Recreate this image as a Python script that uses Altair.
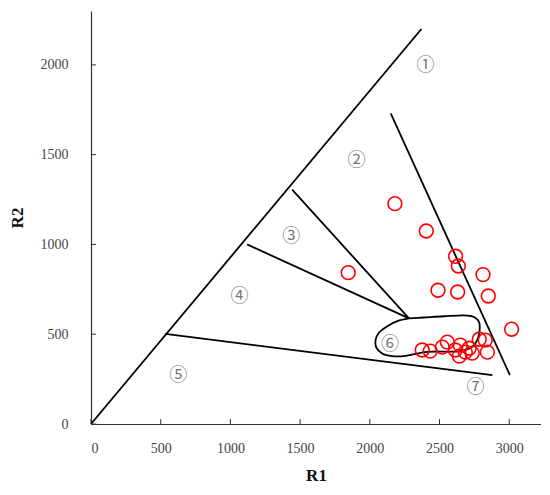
import altair as alt
import pandas as pd

# ---- data ----
x_ticks = [0, 500, 1000, 1500, 2000, 2500, 3000]
y_ticks = [0, 500, 1000, 1500, 2000]

# boundary segments (x1, y1, x2, y2)
seg_names = ["diag", "b12", "b23", "b34", "b45"]
seg_x1 = [0, 2150, 1443, 1120, 533]
seg_y1 = [0, 1730, 1305, 1000, 502]
seg_x2 = [2370, 3005, 2281, 2281, 2879]
seg_y2 = [2200, 272, 588, 588, 272]

# field 6 closed outline
blob_x = [2281, 2197, 2125, 2065, 2041, 2046, 2089, 2161, 2245, 2412, 2651, 2735,
          2771, 2788, 2783, 2747, 2699, 2532, 2388, 2281]
blob_y = [588, 573, 545, 508, 467, 426, 393, 378, 378, 402, 406, 430,
          467, 523, 569, 596, 604, 600, 593, 588]

# samples
pts_r1 = [2180, 1845, 2405, 2615, 2635, 2812, 2489, 2630, 2850, 3017,
          2376, 2433, 2520, 2556, 2613, 2649, 2642, 2685, 2713, 2735, 2785, 2828, 2843]
pts_r2 = [1227, 843, 1075, 934, 880, 832, 745, 735, 713, 528,
          412, 406, 428, 456, 412, 439, 378, 400, 422, 395, 472, 467, 400]

# field labels
lab_text = ["①", "②", "③", "④", "⑤", "⑥", "⑦"]
lab_x = [2400, 1905, 1436, 1065, 625, 2144, 2759]
lab_y = [1992, 1464, 1041, 708, 267, 439, 198]

W, H = 450, 413
XD = [0, 3228]
YD = [0, 2300]

# ---- build tables ----
seg_rows = []
for i, n in enumerate(seg_names):
    seg_rows.append({"seg": n, "o": 0, "R1": seg_x1[i], "R2": seg_y1[i]})
    seg_rows.append({"seg": n, "o": 1, "R1": seg_x2[i], "R2": seg_y2[i]})
seg_df = pd.DataFrame(seg_rows)
blob_df = pd.DataFrame({"R1": blob_x, "R2": blob_y, "o": list(range(len(blob_x)))})
pts_df = pd.DataFrame({"R1": pts_r1, "R2": pts_r2})
lab_df = pd.DataFrame({"t": lab_text, "R1": lab_x, "R2": lab_y})
xt_df = pd.DataFrame({"v": x_ticks})
yt_df = pd.DataFrame({"v": y_ticks})

xs = alt.Scale(domain=XD, nice=False, zero=False)
ys = alt.Scale(domain=YD, nice=False, zero=False)

x_axis = alt.Axis(values=x_ticks, format="d", title="R1", grid=False, tickSize=0, labelPadding=17,
                  labelFont="Liberation Serif", labelFontSize=14, labelColor="#444",
                  titleFont="Liberation Serif", titleFontSize=17, titleFontWeight="bold",
                  titleColor="#111", titlePadding=12, domainColor="#333")
y_axis = alt.Axis(values=y_ticks, format="d", title="R2", grid=False, tickSize=0, labelPadding=23,
                  labelFont="Liberation Serif", labelFontSize=14, labelColor="#444",
                  titleFont="Liberation Serif", titleFontSize=17, titleFontWeight="bold",
                  titleColor="#111", titlePadding=14, domainColor="#333")

segs = alt.Chart(seg_df).mark_line(color="black", strokeWidth=1.8).encode(
    x=alt.X("R1:Q", scale=xs, axis=x_axis),
    y=alt.Y("R2:Q", scale=ys, axis=y_axis),
    detail="seg:N",
    order="o:Q",
)

blob = alt.Chart(blob_df).mark_line(color="black", strokeWidth=1.8, interpolate="catmull-rom").encode(
    x=alt.X("R1:Q", scale=xs),
    y=alt.Y("R2:Q", scale=ys),
    order="o:Q",
)

pts = alt.Chart(pts_df).mark_point(shape="circle", filled=False, color="#ff0000",
                                   size=190, strokeWidth=1.6, opacity=1).encode(
    x=alt.X("R1:Q", scale=xs),
    y=alt.Y("R2:Q", scale=ys),
)

labs = alt.Chart(lab_df).mark_text(font="Noto Sans CJK SC", fontSize=18, color="#777").encode(
    x=alt.X("R1:Q", scale=xs),
    y=alt.Y("R2:Q", scale=ys),
    text="t:N",
)

xticks = alt.Chart(xt_df).mark_rule(color="#333", strokeWidth=1).encode(
    x=alt.X("v:Q", scale=xs),
    y=alt.value(H),
    y2=alt.value(H - 5),
)
yticks = alt.Chart(yt_df).mark_rule(color="#333", strokeWidth=1).encode(
    y=alt.Y("v:Q", scale=ys),
    x=alt.value(0),
    x2=alt.value(5),
)

chart = alt.layer(segs, blob, xticks, yticks, labs, pts).properties(
    width=W, height=H,
    padding={"left": 0, "top": 3, "right": 0, "bottom": 0},
).configure_view(stroke=None).configure_axis(domainWidth=1.2)

chart.save("out.html", embed_options={"renderer": "svg", "actions": False})
